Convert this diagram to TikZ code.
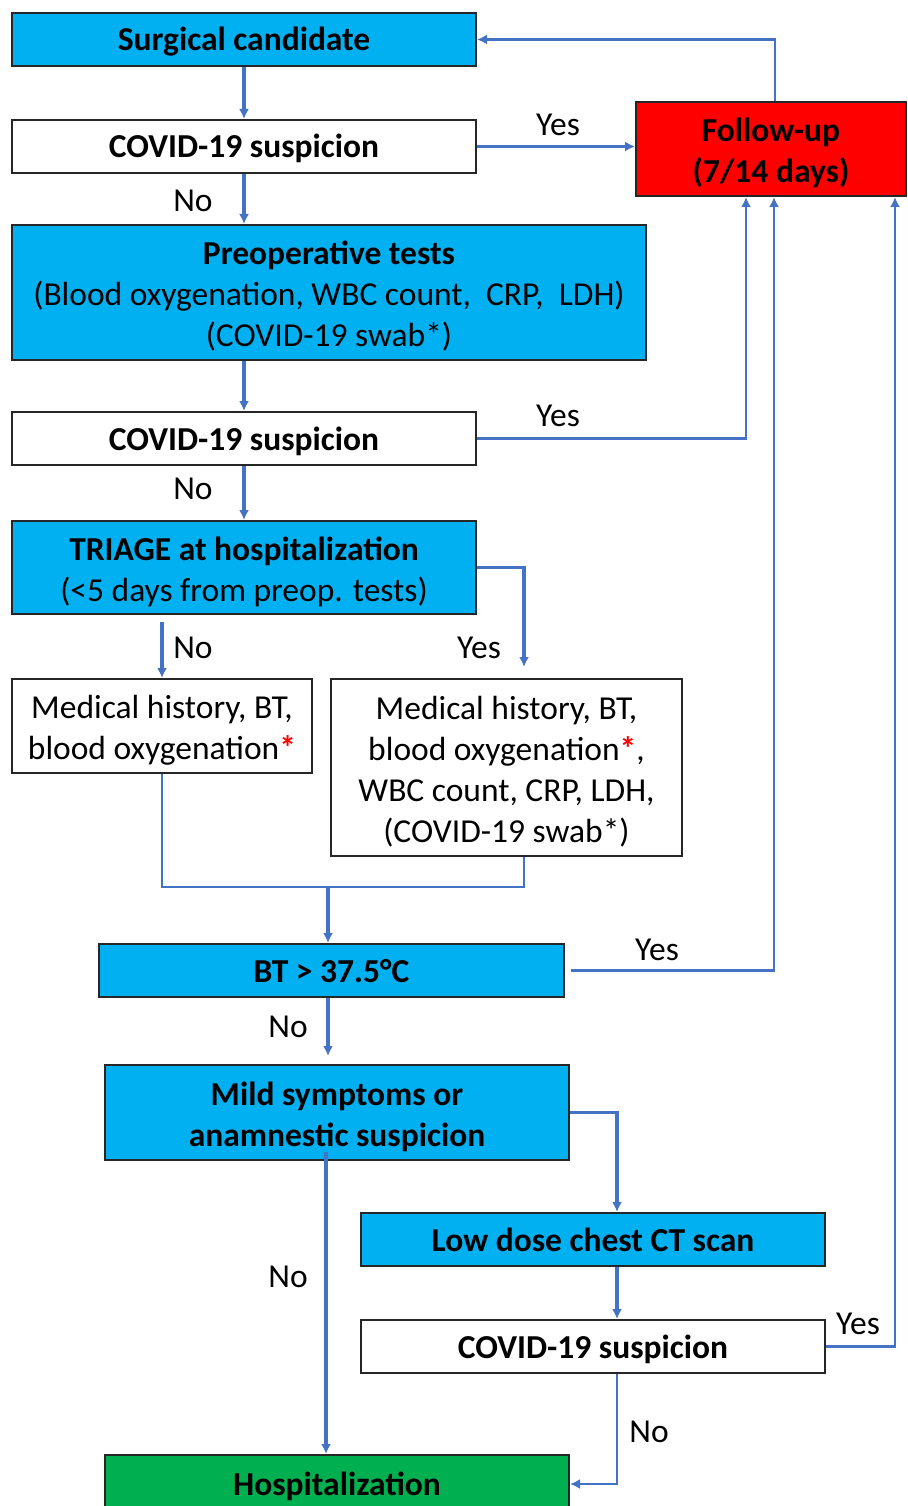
\documentclass[tikz,border=0pt]{standalone}
\usepackage{fontspec}
\setmainfont{Carlito}
\usetikzlibrary{arrows.meta,calc}
\definecolor{cyanbox}{HTML}{00B0F0}
\definecolor{redbox}{HTML}{FF0000}
\definecolor{greenbox}{HTML}{00B050}
\definecolor{conn}{HTML}{4472C4}
\definecolor{edge}{HTML}{262626}
\newcommand{\fsz}{\fontsize{33.5}{41}\selectfont}
\newcommand{\redast}{{\color{red}\bfseries*}}
\newcommand{\mytopstrut}{\rule{0pt}{31pt}}
\newcommand{\mybotstrut}{\rule[-8pt]{0pt}{8pt}}
\newcommand{\ft}{\rule{0pt}{34pt}}
\tikzset{
  box/.style={draw=edge, line width=2pt, inner sep=0pt, align=center, font=\fsz,
    execute at begin node={\mytopstrut}, execute at end node={\mybotstrut}},
  bluebox/.style={box, fill=cyanbox, font=\fsz\bfseries},
  whitebox/.style={box, fill=white, font=\fsz\bfseries},
  plainbox/.style={box, fill=white, font=\fsz},
  arr/.style={draw=conn, line width=3.4pt, -{Latex[length=10pt,width=10pt]}},
  thinarr/.style={draw=conn, line width=2.4pt, -{Latex[length=10pt,width=10pt]}},
  thinline/.style={draw=conn, line width=2.4pt},
  lbl/.style={font=\fsz, inner sep=0pt}
}
\begin{document}
\begin{tikzpicture}[x=1pt,y=-1pt]
\fill[white] (0,0) rectangle (907,1506);
\useasboundingbox (0,0) rectangle (907,1506);
\clip (0,0) rectangle (907,1506);

\node[bluebox, minimum width=464pt, minimum height=53pt] (surg) at (244,39.5) {Surgical candidate};
\node[whitebox, minimum width=464pt, minimum height=53pt] (cov1) at (244,146.5) {COVID-19 suspicion};
\node[box, fill=redbox, font=\fsz\bfseries, minimum width=270pt, minimum height=94pt] (fu) at (771,149) {\ft Follow-up\\(7/14 days)};
\node[bluebox, minimum width=634pt, minimum height=135pt] (pre) at (329,292.5) {\ft Preoperative tests\\\mdseries(Blood oxygenation, WBC count,\ \ CRP,\ \ LDH)\\\mdseries(COVID-19 swab*)};
\node[whitebox, minimum width=464pt, minimum height=53pt] (cov2) at (244,438.5) {COVID-19 suspicion};
\node[bluebox, minimum width=464pt, minimum height=93pt] (tri) at (244,567.5) {\ft TRIAGE at hospitalization\\\mdseries(<5 days from preop. tests)};
\node[plainbox, minimum width=300pt, minimum height=94pt] (medL) at (162,726) {\ft Medical history, BT,\\blood oxygenation\redast};
\node[plainbox, minimum width=351pt, minimum height=177pt] (medR) at (506.5,767.5) {\ft Medical history, BT,\\blood oxygenation\redast,\\WBC count, CRP, LDH,\\(COVID-19 swab*)};
\node[bluebox, minimum width=465pt, minimum height=53pt] (bt) at (331.5,970.5) {BT > 37.5°C};
\node[bluebox, minimum width=464pt, minimum height=95pt] (mild) at (337,1112.5) {\ft Mild symptoms or\\anamnestic suspicion};
\node[bluebox, minimum width=464pt, minimum height=53pt] (ct) at (593,1239.5) {Low dose chest CT scan};
\node[whitebox, minimum width=464pt, minimum height=53pt] (cov3) at (593,1346.5) {COVID-19 suspicion};
\node[box, fill=greenbox, font=\fsz\bfseries, minimum width=464pt, minimum height=58pt] (hosp) at (337,1484) {Hospitalization};

\coordinate (j) at (328,887);
\coordinate (mrb) at ([xshift=17.5pt]medR.south);

\draw[arr] (surg.south) -- (cov1.north);
\draw[arr] (cov1.east) -- (cov1.east -| fu.west);
\draw[thinarr] ([xshift=4pt]fu.north) |- (surg.east);
\draw[arr] (cov1.south) -- (cov1.south |- pre.north);
\draw[arr] (pre.south -| cov2.north) -- (cov2.north);
\draw[thinarr] (cov2.east) -| ([xshift=-25pt]fu.south);
\draw[arr] (cov2.south) -- (tri.north);
\draw[arr, shorten <=7pt] (tri.south -| medL.north) -- (medL.north);
\draw[arr, shorten >=11pt] (tri.east) -| (mrb |- medR.north);
\draw[thinline] (medL.south) |- (j) -| (mrb);
\draw[arr] (j) -- (j |- bt.north);
\draw[thinarr, shorten <=6pt] (bt.east) -| ([xshift=3pt]fu.south);
\draw[arr, shorten >=8pt] ([xshift=-3.5pt]bt.south) -- ([xshift=-3.5pt]bt.south |- mild.north);
\draw[arr] (mild.east) -| ([xshift=24pt]ct.north);
\draw[arr, shorten <=-9pt] ([xshift=-11pt]mild.south) -- ([xshift=-11pt]mild.south |- hosp.north);
\draw[arr] ([xshift=24pt]ct.south) -- ([xshift=24pt]cov3.north);
\draw[thinarr] (cov3.east) -| ([xshift=124pt]fu.south);
\draw[thinarr] ([xshift=24pt]cov3.south) |- (hosp.east);

\node[lbl] (l1) at (558,125) {Yes};
\node[lbl] (l2) at (558,416) {Yes};
\node[lbl] (l3) at (193,201) {No};
\node[lbl] (l4) at (193,489) {No};
\node[lbl] (l5) at (193,648) {No};
\node[lbl] (l6) at (479,648) {Yes};
\node[lbl] (l7) at (657,950) {Yes};
\node[lbl] (l8) at (288,1027) {No};
\node[lbl] (l9) at (288,1277) {No};
\node[lbl] (l10) at (858,1324) {Yes};
\node[lbl] (l11) at (649,1432) {No};
\end{tikzpicture}
\end{document}
